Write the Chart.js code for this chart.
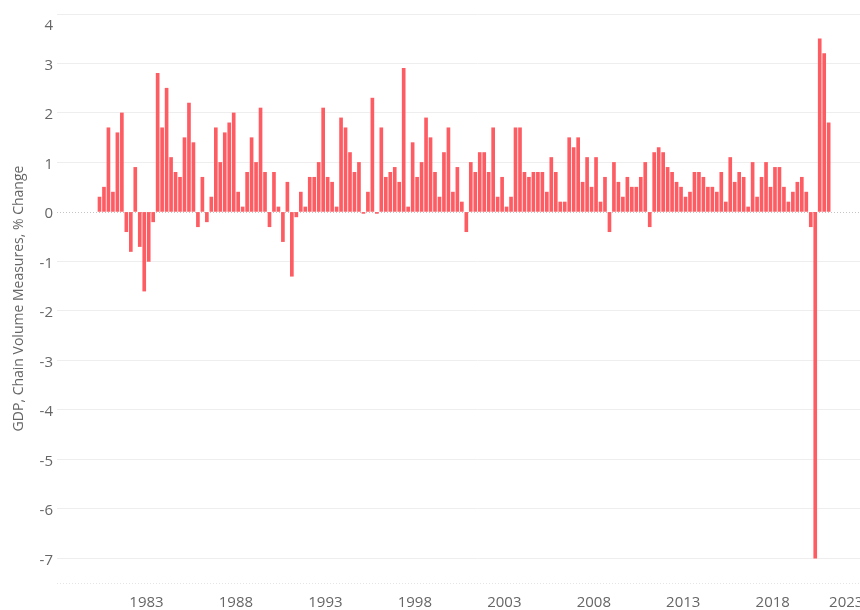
<!DOCTYPE html>
<html><head><meta charset="utf-8">
<script src="https://cdn.jsdelivr.net/npm/chart.js@4.4.0/dist/chart.umd.min.js"></script>
<style>html,body{margin:0;padding:0;overflow:hidden;background:#fff;width:860px;height:610px}canvas{display:block}</style>
</head><body>
<canvas id="c" width="898" height="610"></canvas>
<script>
// Quarterly GDP, chain volume measures, % change (first quarter: 1980 Q2)
const firstYear = 1980;
const firstQuarter = 2;
const gdpChange = [
  0.3,0.5,1.7,0.4,1.6,2.0,-0.4,-0.8,0.9,-0.7,-1.6,-1.0,-0.2,2.8,1.7,2.5,1.1,0.8,0.7,1.5,
  2.2,1.4,-0.3,0.7,-0.2,0.3,1.7,1.0,1.6,1.8,2.0,0.4,0.1,0.8,1.5,1.0,2.1,
  0.8,-0.3,0.8,0.1,-0.6,0.6,-1.3,-0.1,0.4,0.1,0.7,0.7,1.0,2.1,0.7,0.6,0.1,1.9,1.7,1.2,
  0.8,1.0,-0.03,0.4,2.3,-0.03,1.7,0.7,0.8,0.9,0.6,2.9,0.1,1.4,0.7,1.0,1.9,1.5,0.8,0.3,1.2,1.7,
  0.4,0.9,0.2,-0.4,1.0,0.8,1.2,1.2,0.8,1.7,0.3,0.7,0.1,0.3,1.7,1.7,0.8,0.7,0.8,0.8,0.8,
  0.4,1.1,0.8,0.2,0.2,1.5,1.3,1.5,0.6,1.1,0.5,1.1,0.2,0.7,-0.4,1.0,0.6,0.3,0.7,0.5,0.5,0.7,
  1.0,-0.3,1.2,1.3,1.2,0.9,0.8,0.6,0.5,0.3,0.4,0.8,0.8,0.7,0.5,0.5,0.4,0.8,0.2,1.1,0.6,
  0.8,0.7,0.1,1.0,0.3,0.7,1.0,0.5,0.9,0.9,0.5,0.2,0.4,0.6,0.7,0.4,-0.3,-7.0,3.5,3.2,1.8
];
const yearTicks = [1983,1988,1993,1998,2003,2008,2013,2018,2023];
const valueTicks = [4,3,2,1,0,-1,-2,-3,-4,-5,-6,-7];
const yTitle = 'GDP, Chain Volume Measures, % Change';

const quarterLabels = gdpChange.map((_, i) => {
  const q = firstQuarter - 1 + i;
  return (firstYear + Math.floor(q / 4)) + ' Q' + (q % 4 + 1);
});
const points = quarterLabels.map((lab, i) => {
  const [yr, q] = lab.split(' Q').map(Number);
  return { x: yr + (q - 1) * 0.25 + 0.125, y: gdpChange[i] };
});

const FONT_FAMILY = "'Open Sans', 'DejaVu Sans', sans-serif";
const tickFont = { family: FONT_FAMILY, size: 15 };
const lastYear = yearTicks[yearTicks.length - 1];
const topValue = valueTicks[0];

const axisLines = {
  id: 'axisLines',
  beforeDatasetsDraw(chart) {
    const { ctx, chartArea: { left, right, bottom }, scales: { y } } = chart;
    ctx.save();
    ctx.lineWidth = 1;
    ctx.setLineDash([1, 2]);
    ctx.strokeStyle = '#c4c4c4';
    const y0 = Math.round(y.getPixelForValue(0)) + 0.5;
    ctx.beginPath(); ctx.moveTo(left, y0); ctx.lineTo(right, y0); ctx.stroke();
    ctx.strokeStyle = '#e4e4e4';
    ctx.beginPath(); ctx.moveTo(left, bottom + 0.5); ctx.lineTo(right, bottom + 0.5); ctx.stroke();
    ctx.restore();
  },
  afterDraw(chart) {
    // edge labels nudged inward, as the original renderer does
    const { ctx, scales: { x, y } } = chart;
    ctx.save();
    ctx.font = '15px ' + FONT_FAMILY;
    ctx.fillStyle = '#666';
    ctx.textBaseline = 'middle';
    ctx.textAlign = 'center';
    ctx.fillText(String(lastYear), x.getPixelForValue(lastYear) - 16, x.top + 20);
    ctx.textAlign = 'right';
    ctx.fillText(String(topValue), y.right - 4, y.getPixelForValue(topValue) + 12);
    ctx.restore();
  }
};

new Chart(document.getElementById('c'), {
  type: 'bar',
  data: {
    datasets: [{
      label: yTitle,
      data: points,
      backgroundColor: '#fd5c63',
      borderWidth: 0,
      barThickness: 3,
      grouped: false
    }]
  },
  plugins: [axisLines],
  options: {
    responsive: false,
    animation: false,
    layout: { padding: { top: 14, left: 0, right: 0, bottom: 0 } },
    plugins: { legend: { display: false }, tooltip: { enabled: false } },
    scales: {
      x: {
        type: 'linear',
        offset: false,
        min: 1978,
        max: 2025,
        afterBuildTicks: s => { s.ticks = yearTicks.map(v => ({ value: v })); },
        afterFit: s => { s.height = 27; },
        grid: { display: false, drawTicks: false, offset: false },
        border: { display: false },
        ticks: {
          autoSkip: false, maxRotation: 0, padding: 11,
          color: '#666', font: tickFont,
          callback: v => v === lastYear ? '' : String(v)
        }
      },
      y: {
        min: -7.5,
        max: 4,
        afterBuildTicks: s => { s.ticks = valueTicks.map(v => ({ value: v })); },
        afterFit: s => { s.width = 57; },
        grid: {
          drawTicks: false,
          color: c => (c.tick && c.tick.value === 0) ? 'rgba(0,0,0,0)' : '#eeeeee'
        },
        border: { display: false },
        ticks: {
          padding: 4, color: '#666', font: tickFont, labelOffset: 2,
          callback: v => v === topValue ? '' : String(v)
        },
        title: {
          display: true, text: yTitle, color: '#666',
          font: { family: FONT_FAMILY, size: 14 },
          padding: { top: 11, bottom: 0 }
        }
      }
    }
  }
});
</script>
</body></html>
